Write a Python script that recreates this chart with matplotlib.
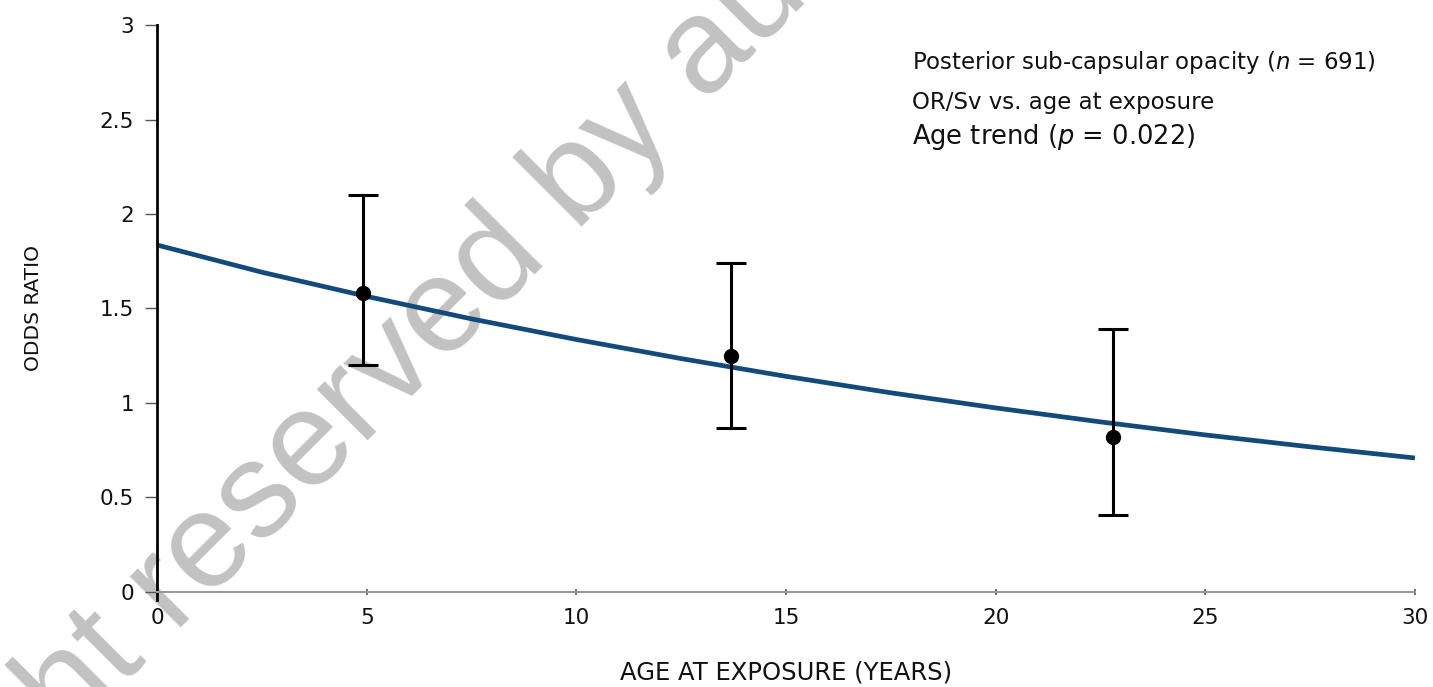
import matplotlib
matplotlib.use("Agg")
import matplotlib.pyplot as plt
import numpy as np

plt.rcParams["font.family"] = ["DejaVu Sans"]
plt.rcParams["mathtext.fontset"] = "dejavusans"

# Fitted age trend of the odds ratio (per Sv) against age at exposure
trend_age = [0, 2.5, 5, 7.5, 10, 12.5, 15, 17.5, 20, 22.5, 25, 27.5, 30]
trend_or = [1.836, 1.692, 1.564, 1.445, 1.336, 1.235, 1.141,
            1.054, 0.974, 0.900, 0.831, 0.768, 0.709]

# Category estimates with 95% CI
group_age = [4.9, 13.7, 22.8]
group_or = [1.58, 1.25, 0.82]
ci_low = [1.20, 0.87, 0.41]
ci_high = [2.10, 1.74, 1.39]

x_ticks = [0, 5, 10, 15, 20, 25, 30]
y_ticks = [0, 0.5, 1, 1.5, 2, 2.5, 3]
y_tick_labels = ["0", "0.5", "1", "1.5", "2", "2.5", "3"]

fig = plt.figure(figsize=(14.33, 6.87), dpi=100)
ax = fig.add_axes([0.1096, 0.1383, 0.8778, 0.8253])
ax.patch.set_alpha(0)

# watermark behind the plot
fig.text(0.232, 0.378, "Copyright reserved by author", fontsize=98,
         family=["Liberation Sans", "DejaVu Sans"], color="#c2c2c2",
         rotation=45, rotation_mode="anchor", ha="center", va="center",
         zorder=-1)

ax.plot(trend_age, trend_or, color="#124b7a", lw=3.4, solid_capstyle="butt", zorder=2)

yerr = np.array([np.subtract(group_or, ci_low), np.subtract(ci_high, group_or)])
ax.errorbar(group_age, group_or, yerr=yerr, fmt="o", color="black", ms=10,
            elinewidth=2.2, capsize=11, capthick=2.2, zorder=3)

ax.set_xlim(0, 30)
ax.set_ylim(0, 3)
ax.set_xticks(x_ticks)
ax.set_xticklabels([str(t) for t in x_ticks])
ax.set_yticks(y_ticks)
ax.set_yticklabels(y_tick_labels)

for side in ("top", "right"):
    ax.spines[side].set_visible(False)
ax.spines["left"].set_color("black")
ax.spines["left"].set_linewidth(2)
ax.spines["left"].set_bounds(-0.045, 3)
ax.spines["bottom"].set_color("#999999")
ax.spines["bottom"].set_linewidth(1.5)

ax.tick_params(axis="y", length=8.5, width=1, color="#555555", pad=8,
               labelsize=15.5, labelcolor="#111111")
ax.tick_params(axis="x", direction="inout", length=5, width=1.2, color="#555555",
               pad=9, labelsize=15.5, labelcolor="#111111")

ax.set_xlabel("AGE AT EXPOSURE (YEARS)", fontsize=17.5, color="#111111")
ax.xaxis.set_label_coords(0.5, -0.12)
ax.set_ylabel("ODDS RATIO", fontsize=14.5, color="#111111")
ax.yaxis.set_label_coords(-0.0906, 0.5)

ax.text(0.600, 0.9347, "Posterior sub-capsular opacity ($n$ = 691)",
        transform=ax.transAxes, fontsize=16.5, va="center", ha="left", color="#111111")
ax.text(0.600, 0.864, "OR/Sv vs. age at exposure",
        transform=ax.transAxes, fontsize=16.5, va="center", ha="left", color="#111111")
ax.text(0.600, 0.8025, "Age trend ($p$ = 0.022)",
        transform=ax.transAxes, fontsize=18.5, va="center", ha="left", color="#111111")

fig.savefig("out.png", dpi=100)
